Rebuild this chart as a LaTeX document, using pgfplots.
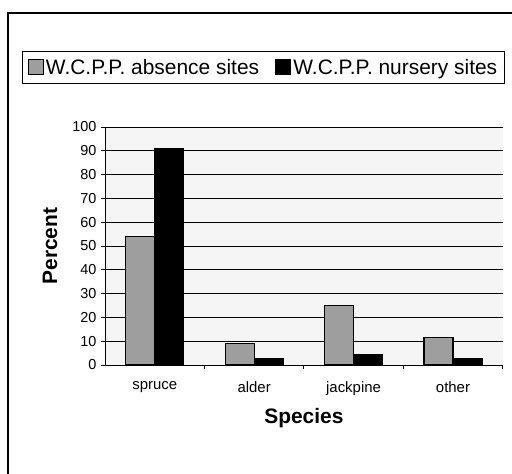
\documentclass[border=0pt]{standalone}
\usepackage{fontspec}
\setmainfont{Liberation Sans}
\usepackage{pgfplots}
\pgfplotsset{compat=1.18}
\begin{document}
\begin{tikzpicture}
\draw[line width=1.5bp] (8bp,-20bp) -- (8bp,461bp) -- (540bp,461bp);
\begin{axis}[
  at={(105bp,109bp)}, anchor=south west,
  scale only axis, width=397.7bp, height=238bp,
  ybar=0pt, bar width=29bp,
  xmin=-0.5, xmax=3.5, ymin=0, ymax=100,
  ytick={0,10,...,100},
  xtick={0,1,2,3}, xticklabels={spruce,alder,jackpine,other},
  minor xtick={0.5,1.5,2.5,3.5},
  major x tick style={draw=none},
  minor x tick style={draw=black, line width=0.8bp},
  major y tick style={draw=black, line width=0.8bp},
  major tick length=4bp, minor tick length=4bp,
  tick align=outside,
  axis x line*=bottom, axis y line*=left,
  axis line style={line width=1bp, -},
  ymajorgrids, grid style={black, line width=0.8bp},
  axis background/.style={fill=black!4},
  /pgf/number format/assume math mode=true,
  yticklabel style={font=\fontsize{14.5}{16}\selectfont, xshift=-1bp},
  xticklabel style={font=\fontsize{15}{17}\selectfont, yshift=-9bp},
  ylabel={Percent}, xlabel={Species},
  label style={font=\fontsize{21}{24}\selectfont\bfseries},
  ylabel style={at={(axis description cs:-0.138,0.5)}, anchor=center, rotate=0},
  xlabel style={at={(axis description cs:0.5,-0.221)}, anchor=center},
  legend columns=2,
  legend image code/.code={\draw[#1, line width=1.2bp] (0bp,-7bp) rectangle (15bp,8bp);},
  legend style={at={(axis description cs:0.3985,1.25)}, anchor=center,
    draw=black, line width=1bp, font=\fontsize{21}{24}\selectfont,
    inner xsep=5bp, inner ysep=6bp,
    /tikz/every even column/.append style={column sep=14bp}},
]
\addplot[fill=black!38, draw=black, line width=1.2bp] coordinates {(0,54) (1,9) (2,25) (3,11.5)};
\addplot[fill=black, draw=black, line width=1.2bp] coordinates {(0,91) (1,2.5) (2,4.5) (3,2.5)};
\legend{W.C.P.P. absence sites, W.C.P.P. nursery sites}
\draw[black!40, densely dotted] (rel axis cs:1,0) -- (rel axis cs:1,1);
\end{axis}
\pgfresetboundingbox
\useasboundingbox (0,0) rectangle (512bp,474bp);
\end{tikzpicture}
\end{document}
